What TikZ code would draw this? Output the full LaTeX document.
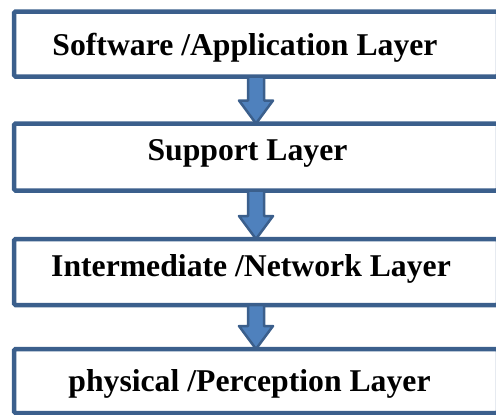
\documentclass[tikz,border=0pt]{standalone}
\usepackage{fontspec}
\setmainfont{Liberation Serif}
\usetikzlibrary{calc}
\definecolor{boxblue}{RGB}{59,95,140}
\definecolor{arrowfill}{RGB}{79,129,189}
\tikzset{
  layerbox/.style={draw=boxblue, line width=4.5pt, fill=white, rounded corners=1.5pt,
    minimum width=484pt, outer sep=0pt, inner sep=0pt},
  layertext/.style={anchor=base, inner sep=0pt, font=\fontsize{31.7}{38}\selectfont\bfseries},
  flowarrow/.style={draw=boxblue, fill=arrowfill, line width=2.5pt, line join=round}
}
\newcommand\layerarrow[2]{%
  \draw[flowarrow] ($(#1.south)+(-8,0)$) -- ($(#2.north)+(-8,-23)$) -- ($(#2.north)+(-17,-23)$)
    -- (#2.north) -- ($(#2.north)+(17,-23)$) -- ($(#2.north)+(8,-23)$) -- ($(#1.south)+(8,0)$) -- cycle;}
\begin{document}
\begin{tikzpicture}[x=1pt,y=-1pt]
\useasboundingbox (0,0) rectangle (496,415);
\clip (0,0) rectangle (496,415);
\node[layerbox, minimum height=65pt] (b1) at (256,44) {};
\node[layerbox, minimum height=67pt] (b2) at (256,157) {};
\node[layerbox, minimum height=66pt] (b3) at (256,272) {};
\node[layerbox, minimum height=64pt] (b4) at (256,381) {};
\node[layertext] (t1) at (245,55) {Software /Application Layer};
\node[layertext] (t2) at (247.5,160.5) {Support Layer};
\node[layertext] (t3) at (251,276) {Intermediate /Network Layer};
\node[layertext] (t4) at (249.5,391) {physical /Perception Layer};
\layerarrow{b1}{b2}
\layerarrow{b2}{b3}
\layerarrow{b3}{b4}
\end{tikzpicture}
\end{document}
